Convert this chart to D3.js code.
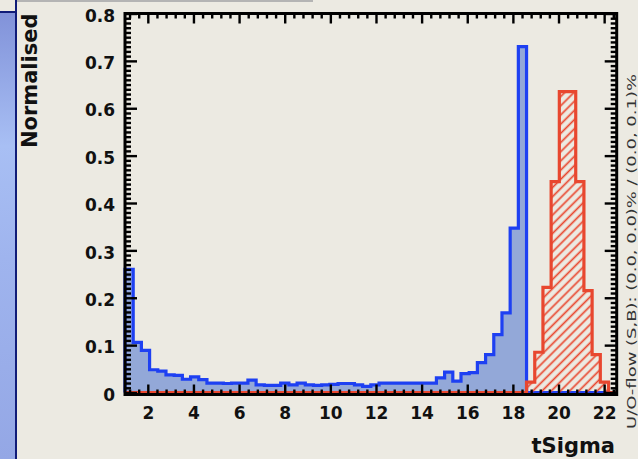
<!DOCTYPE html>
<html>
<head>
<meta charset="utf-8">
<script src="https://cdn.jsdelivr.net/npm/d3@7"></script>
<style>
  html, body { margin: 0; padding: 0; background: #eceae2; }
  svg { display: block; }
  .lbl { font-family: "DejaVu Sans", sans-serif; font-weight: bold; fill: #111; }
</style>
</head>
<body>
<svg id="chart" width="638" height="459"></svg>
<script>
// tSigma distributions, normalised, 60 equal bins over the axis range
const xRange = [1.0, 22.55];
const nBins = 60;

// signal (blue, filled)
const signalValues = [
  0.26, 0.106, 0.089, 0.048, 0.045, 0.037, 0.036, 0.028, 0.033, 0.027,
  0.02, 0.02, 0.019, 0.02, 0.02, 0.026, 0.016, 0.015, 0.015, 0.02,
  0.016, 0.02, 0.016, 0.015, 0.016, 0.017, 0.019, 0.019, 0.016, 0.013,
  0.016, 0.02, 0.02, 0.02, 0.02, 0.02, 0.02, 0.02, 0.031, 0.043,
  0.024, 0.04, 0.042, 0.063, 0.08, 0.122, 0.168, 0.347, 0.73, 0,
  0, 0, 0, 0, 0, 0, 0, 0, 0, 0
];

// background (red, hatched)
const backgroundValues = [
  0, 0, 0, 0, 0, 0, 0, 0, 0, 0,
  0, 0, 0, 0, 0, 0, 0, 0, 0, 0,
  0, 0, 0, 0, 0, 0, 0, 0, 0, 0,
  0, 0, 0, 0, 0, 0, 0, 0, 0, 0,
  0, 0, 0, 0, 0, 0, 0, 0, 0, 0.022,
  0.085, 0.222, 0.445, 0.635, 0.635, 0.445, 0.215, 0.08, 0.022, 0
];

const xTickValues = [2, 4, 6, 8, 10, 12, 14, 16, 18, 20, 22];
const xTickLabels = ["2", "4", "6", "8", "10", "12", "14", "16", "18", "20", "22"];
const yTickValues = [0, 0.1, 0.2, 0.3, 0.4, 0.5, 0.6, 0.7, 0.8];
const yTickLabels = ["0", "0.1", "0.2", "0.3", "0.4", "0.5", "0.6", "0.7", "0.8"];

const xTitle = "tSigma";
const yTitle = "Normalised";
const overflowText = "U/O-flow (S,B): (0.0, 0.0)% / (0.0, 0.1)%";

const svg = d3.select("#chart");
const W = 638, H = 459;
const frame = { left: 125, right: 616.7, top: 13.5, bottom: 394.5 };

const x = d3.scaleLinear().domain(xRange).range([frame.left, frame.right]);
const y = d3.scaleLinear().domain([0, 0.8]).range([392.5, frame.top]);

const defs = svg.append("defs");

// side panel gradient
const grad = defs.append("linearGradient")
  .attr("id", "sideGrad").attr("x1", 0).attr("y1", 0).attr("x2", 0).attr("y2", 1);
grad.append("stop").attr("offset", "0%").attr("stop-color", "#8192d9");
grad.append("stop").attr("offset", "30%").attr("stop-color", "#a8bff4");
grad.append("stop").attr("offset", "55%").attr("stop-color", "#9fb4ee");
grad.append("stop").attr("offset", "100%").attr("stop-color", "#94a7e5");

// diagonal hatch for the background histogram
const hatch = defs.append("pattern")
  .attr("id", "hatch")
  .attr("patternUnits", "userSpaceOnUse")
  .attr("width", 6.5).attr("height", 6.5)
  .attr("patternTransform", "rotate(45)");
hatch.append("line")
  .attr("x1", 3.25).attr("y1", -1).attr("x2", 3.25).attr("y2", 8)
  .attr("stroke", "#e8472f").attr("stroke-width", 1.7);

// page background
svg.append("rect").attr("width", W).attr("height", H).attr("fill", "#eceae2");

// left side panel
svg.append("rect").attr("x", 0).attr("y", 12).attr("width", 16).attr("height", H - 12)
  .attr("fill", "url(#sideGrad)");
svg.append("line").attr("x1", 16).attr("y1", 0).attr("x2", 16).attr("y2", H)
  .attr("stroke", "#101c78").attr("stroke-width", 2);
svg.append("line").attr("x1", 0).attr("y1", 12).attr("x2", 16).attr("y2", 12)
  .attr("stroke", "#101c78").attr("stroke-width", 2);
svg.append("line").attr("x1", 17).attr("y1", 1).attr("x2", 313).attr("y2", 1)
  .attr("stroke", "#b4b4b4").attr("stroke-width", 2);

// step outline of a histogram, including empty bins along the baseline
const binW = (xRange[1] - xRange[0]) / nBins;
function stepPath(values) {
  const p = d3.path();
  p.moveTo(x(xRange[0]), y(0));
  values.forEach((v, i) => {
    const lo = xRange[0] + i * binW, hi = lo + binW;
    p.lineTo(x(lo), y(v));
    p.lineTo(x(hi), y(v));
  });
  p.lineTo(x(xRange[1]), y(0));
  return p.toString();
}

svg.append("path").attr("d", stepPath(signalValues))
  .attr("fill", "#93a8d8").attr("stroke", "#1e40f2")
  .attr("stroke-width", 3.2).attr("stroke-linejoin", "miter");

svg.append("path").attr("d", stepPath(backgroundValues))
  .attr("fill", "url(#hatch)").attr("stroke", "#e8472f")
  .attr("stroke-width", 3.2).attr("stroke-linejoin", "miter");

// frame
svg.append("rect")
  .attr("x", frame.left).attr("y", frame.top)
  .attr("width", frame.right - frame.left).attr("height", frame.bottom - frame.top)
  .attr("fill", "none").attr("stroke", "#000").attr("stroke-width", 3);

// minor tick positions
const xMinor = d3.range(Math.ceil(xRange[0] / 0.4), Math.floor(xRange[1] / 0.4) + 1)
  .map(k => +(k * 0.4).toFixed(2))
  .filter(v => v > xRange[0] && v < xRange[1] && Math.abs(v / 2 - Math.round(v / 2)) > 1e-6);
const yMinor = d3.range(1, 80).map(k => +(k * 0.01).toFixed(2))
  .filter(v => Math.abs(v * 10 - Math.round(v * 10)) > 1e-6);

function styleAxis(g) {
  g.select(".domain").remove();
  g.selectAll(".tick line").attr("stroke", "#000").attr("stroke-width", 2.4);
}

// bottom axis with labels
const xAxisG = svg.append("g").attr("transform", `translate(0,${frame.bottom})`)
  .call(d3.axisBottom(x).tickValues(xTickValues)
    .tickFormat((d, i) => xTickLabels[i]).tickSize(-10).tickPadding(12))
  .call(styleAxis);
xAxisG.selectAll(".tick text").attr("class", "lbl")
  .attr("font-size", 17).attr("dy", "0.71em").attr("fill", "#111");

svg.append("g").attr("transform", `translate(0,${frame.bottom})`)
  .call(d3.axisBottom(x).tickValues(xMinor).tickFormat("").tickSize(-5))
  .call(styleAxis);

// top axis
svg.append("g").attr("transform", `translate(0,${frame.top})`)
  .call(d3.axisTop(x).tickValues(xTickValues).tickFormat("").tickSize(-10))
  .call(styleAxis);
svg.append("g").attr("transform", `translate(0,${frame.top})`)
  .call(d3.axisTop(x).tickValues(xMinor).tickFormat("").tickSize(-5))
  .call(styleAxis);

// left axis with labels
const yAxisG = svg.append("g").attr("transform", `translate(${frame.left},0)`)
  .call(d3.axisLeft(y).tickValues(yTickValues)
    .tickFormat((d, i) => yTickLabels[i]).tickSize(-12).tickPadding(10))
  .call(styleAxis);
yAxisG.selectAll(".tick text").attr("class", "lbl")
  .attr("font-size", 17).attr("dy", "0.45em").attr("fill", "#111");

svg.append("g").attr("transform", `translate(${frame.left},0)`)
  .call(d3.axisLeft(y).tickValues(yMinor).tickFormat("").tickSize(-6))
  .call(styleAxis);

// right axis
svg.append("g").attr("transform", `translate(${frame.right},0)`)
  .call(d3.axisRight(y).tickValues(yTickValues).tickFormat("").tickSize(-12))
  .call(styleAxis);
svg.append("g").attr("transform", `translate(${frame.right},0)`)
  .call(d3.axisRight(y).tickValues(yMinor).tickFormat("").tickSize(-6))
  .call(styleAxis);

// axis titles
svg.append("text").attr("class", "lbl")
  .attr("x", 615).attr("y", 453)
  .attr("text-anchor", "end").attr("font-size", 21)
  .text(xTitle);

svg.append("text").attr("class", "lbl")
  .attr("transform", "translate(37,13.5) rotate(-90)")
  .attr("text-anchor", "end").attr("font-size", 21)
  .text(yTitle);

// under/overflow note
svg.append("text")
  .attr("transform", "translate(636,429) rotate(-90)")
  .attr("font-family", "'DejaVu Sans', sans-serif")
  .attr("font-size", 11.5).attr("fill", "#333")
  .attr("textLength", 355).attr("lengthAdjust", "spacingAndGlyphs")
  .text(overflowText);
</script>
</body>
</html>
